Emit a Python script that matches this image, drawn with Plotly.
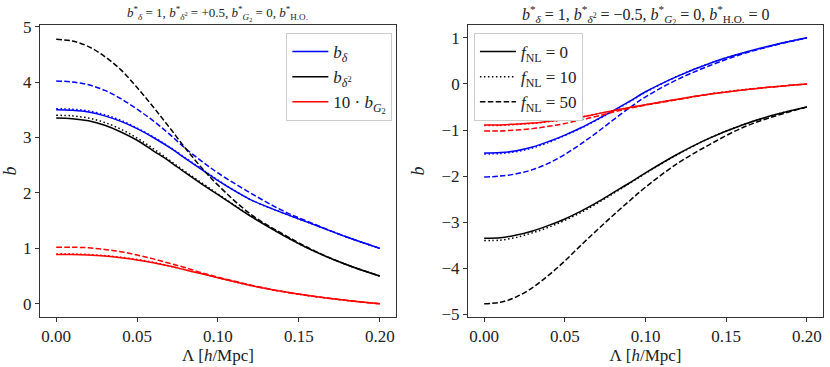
import plotly.graph_objects as go

# Lambda grid [h/Mpc]
lam = [0.0, 0.01, 0.02, 0.03, 0.04, 0.05, 0.06, 0.07, 0.08, 0.09, 0.10, 0.12, 0.14, 0.16, 0.18, 0.20]

# left panel: b*_delta2 = +0.5   (suffix = fNL)
L_bd_0 = [3.50, 3.49, 3.46, 3.39, 3.29, 3.16, 3.00, 2.82, 2.62, 2.42, 2.22, 1.88, 1.64, 1.42, 1.20, 1.00]
L_bd_10 = [3.52, 3.51, 3.48, 3.41, 3.31, 3.17, 3.01, 2.83, 2.63, 2.43, 2.23, 1.88, 1.64, 1.42, 1.20, 1.00]
L_bd_50 = [4.02, 4.00, 3.95, 3.85, 3.70, 3.51, 3.30, 3.06, 2.80, 2.57, 2.36, 2.00, 1.68, 1.43, 1.20, 1.00]
L_bd2_0 = [3.35, 3.34, 3.30, 3.22, 3.10, 2.95, 2.76, 2.57, 2.36, 2.16, 1.97, 1.58, 1.24, 0.94, 0.70, 0.50]
L_bd2_10 = [3.40, 3.39, 3.35, 3.27, 3.15, 2.99, 2.80, 2.59, 2.38, 2.18, 1.98, 1.59, 1.24, 0.94, 0.70, 0.50]
L_bd2_50 = [4.77, 4.74, 4.64, 4.46, 4.22, 3.90, 3.55, 3.18, 2.80, 2.45, 2.14, 1.62, 1.26, 0.95, 0.70, 0.50]
L_bg2_0 = [0.89, 0.89, 0.88, 0.86, 0.83, 0.79, 0.74, 0.68, 0.61, 0.54, 0.47, 0.33, 0.22, 0.13, 0.06, 0.00]
L_bg2_10 = [0.90, 0.90, 0.89, 0.87, 0.84, 0.80, 0.75, 0.68, 0.61, 0.54, 0.47, 0.33, 0.22, 0.13, 0.06, 0.00]
L_bg2_50 = [1.02, 1.02, 1.01, 0.98, 0.94, 0.88, 0.81, 0.73, 0.65, 0.56, 0.48, 0.34, 0.22, 0.13, 0.06, 0.00]

# right panel: b*_delta2 = -0.5
R_bd_0 = [-1.50, -1.49, -1.45, -1.37, -1.25, -1.11, -0.95, -0.77, -0.58, -0.38, -0.17, 0.17, 0.45, 0.67, 0.85, 1.00]
R_bd_10 = [-1.52, -1.51, -1.47, -1.39, -1.27, -1.12, -0.96, -0.78, -0.59, -0.39, -0.18, 0.17, 0.45, 0.67, 0.85, 1.00]
R_bd_50 = [-2.02, -2.00, -1.95, -1.86, -1.72, -1.53, -1.30, -1.05, -0.78, -0.52, -0.28, 0.10, 0.40, 0.65, 0.84, 1.00]
R_bd2_0 = [-3.35, -3.34, -3.28, -3.19, -3.07, -2.93, -2.76, -2.57, -2.36, -2.15, -1.93, -1.52, -1.17, -0.89, -0.67, -0.50]
R_bd2_10 = [-3.40, -3.39, -3.33, -3.23, -3.11, -2.96, -2.79, -2.59, -2.38, -2.16, -1.94, -1.53, -1.17, -0.89, -0.67, -0.50]
R_bd2_50 = [-4.77, -4.74, -4.62, -4.42, -4.15, -3.84, -3.50, -3.17, -2.85, -2.54, -2.24, -1.72, -1.31, -0.95, -0.70, -0.50]
R_bg2_0 = [-0.89, -0.89, -0.87, -0.85, -0.81, -0.77, -0.72, -0.65, -0.58, -0.51, -0.45, -0.33, -0.22, -0.13, -0.06, 0.00]
R_bg2_10 = [-0.90, -0.90, -0.88, -0.86, -0.82, -0.77, -0.72, -0.65, -0.58, -0.51, -0.45, -0.33, -0.22, -0.13, -0.06, 0.00]
R_bg2_50 = [-1.02, -1.02, -1.00, -0.97, -0.92, -0.86, -0.78, -0.70, -0.61, -0.53, -0.46, -0.34, -0.22, -0.13, -0.06, 0.00]

x_ticks = [0.0, 0.05, 0.10, 0.15, 0.20]
x_ticklabels = ["0.00", "0.05", "0.10", "0.15", "0.20"]
left_yticks = [0, 1, 2, 3, 4, 5]
right_yticks = [1, 0, -1, -2, -3, -4, -5]
right_yticklabels = ["1", "0", "\u22121", "\u22122", "\u22123", "\u22124", "\u22125"]

FONT = "'Liberation Serif', 'DejaVu Serif', 'Times New Roman', serif"
LW = 1.5
dashes = {"solid": "solid", "dot": "1.5px,2.5px", "dash": "5.5px,2.4px"}

fig = go.Figure()

panels = [
    ("x", "y", [(L_bd_0, L_bd_10, L_bd_50, "blue"),
                (L_bd2_0, L_bd2_10, L_bd2_50, "black"),
                (L_bg2_0, L_bg2_10, L_bg2_50, "red")]),
    ("x2", "y2", [(R_bd_0, R_bd_10, R_bd_50, "blue"),
                  (R_bd2_0, R_bd2_10, R_bd2_50, "black"),
                  (R_bg2_0, R_bg2_10, R_bg2_50, "red")]),
]

for xa, ya, groups in panels:
    for s0, s10, s50, col in groups:
        for ys, d in [(s0, "solid"), (s10, "dot"), (s50, "dash")]:
            fig.add_trace(go.Scatter(
                x=lam, y=ys, mode="lines", xaxis=xa, yaxis=ya,
                line=dict(color=col, width=LW, dash=dashes[d], shape="spline", smoothing=1.0),
                showlegend=False, hoverinfo="skip"
            ))

# legend entries (left: quantities, right: fNL)
for name, col in [("<i>b</i><sub><i>δ</i></sub>", "blue"),
                  ("<i>b</i><sub><i>δ</i><sup>2</sup></sub>", "black"),
                  ("10 · <i>b</i><sub><i>G</i><sub>2</sub></sub>", "red")]:
    fig.add_trace(go.Scatter(x=[None], y=[None], mode="lines", name=name,
                             line=dict(color=col, width=LW), legend="legend"))
for name, d in [("<i>f</i><sub>NL</sub> = 0", "solid"),
                ("<i>f</i><sub>NL</sub> = 10", "dot"),
                ("<i>f</i><sub>NL</sub> = 50", "dash")]:
    fig.add_trace(go.Scatter(x=[None], y=[None], mode="lines", name=name,
                             line=dict(color="black", width=LW, dash=dashes[d]),
                             legend="legend2", xaxis="x2", yaxis="y2"))

axis_common = dict(
    showline=True, linecolor="#333", linewidth=1, mirror=True, automargin=False,
    ticks="outside", ticklen=4, tickcolor="#333", showgrid=False, zeroline=False,
    tickfont=dict(family=FONT, size=17, color="#222"),
)

fig.update_layout(
    width=830, height=367,
    margin=dict(l=0, r=0, t=0, b=0),
    plot_bgcolor="white", paper_bgcolor="white",
    font=dict(family=FONT, color="#222"),
    xaxis=dict(domain=[0.0482, 0.4771], range=[-0.01, 0.21], tickvals=x_ticks,
               ticktext=x_ticklabels, anchor="y",
               title=dict(text="Λ [<i>h</i>/Mpc]", font=dict(family=FONT, size=17), standoff=2),
               **axis_common),
    yaxis=dict(domain=[0.136, 0.932], range=[-0.24, 5.03], tickvals=left_yticks,
               anchor="x",
               title=dict(text="<i>b</i>", font=dict(family=FONT, size=18), standoff=12),
               **axis_common),
    xaxis2=dict(domain=[0.5639, 0.9916], range=[-0.01, 0.21], tickvals=x_ticks,
                ticktext=x_ticklabels, anchor="y2",
                title=dict(text="Λ [<i>h</i>/Mpc]", font=dict(family=FONT, size=17), standoff=2),
                **axis_common),
    yaxis2=dict(domain=[0.136, 0.932], range=[-5.06, 1.28], tickvals=right_yticks,
                ticktext=right_yticklabels, anchor="x2",
                title=dict(text="<i>b</i>", font=dict(family=FONT, size=18), standoff=12),
                **axis_common),
    legend=dict(x=0.345, y=0.910, xanchor="left", yanchor="top",
                bgcolor="white", bordercolor="#ccc", borderwidth=1,
                font=dict(family=FONT, size=17), itemwidth=36, tracegroupgap=0),
    legend2=dict(x=0.571, y=0.910, xanchor="left", yanchor="top",
                 bgcolor="white", bordercolor="#ccc", borderwidth=1,
                 font=dict(family=FONT, size=17), itemwidth=36, tracegroupgap=0),
    annotations=[
        dict(text="<i>b</i><sup>*</sup><sub><i>δ</i></sub> = 1, <i>b</i><sup>*</sup><sub><i>δ</i><sup>2</sup></sub> = +0.5, "
                  "<i>b</i><sup>*</sup><sub><i>G</i><sub>2</sub></sub> = 0, <i>b</i><sup>*</sup><sub>H.O.</sub>",
             x=0.262, y=0.962, xref="paper", yref="paper", xanchor="center", yanchor="middle",
             showarrow=False, font=dict(family=FONT, size=13)),
        dict(text="<i>b</i><sup>*</sup><sub><i>δ</i></sub> = 1, <i>b</i><sup>*</sup><sub><i>δ</i><sup>2</sup></sub> = −0.5, "
                  "<i>b</i><sup>*</sup><sub><i>G</i><sub>2</sub></sub> = 0, <i>b</i><sup>*</sup><sub>H.O.</sub> = 0",
             x=0.778, y=0.958, xref="paper", yref="paper", xanchor="center", yanchor="middle",
             showarrow=False, font=dict(family=FONT, size=16)),
    ],
)

# drop the browser's default 8px body margin so the figure fills the window
fig.write_html("out.html", config={"displayModeBar": False},
               post_script="document.body.style.margin = '0';")
